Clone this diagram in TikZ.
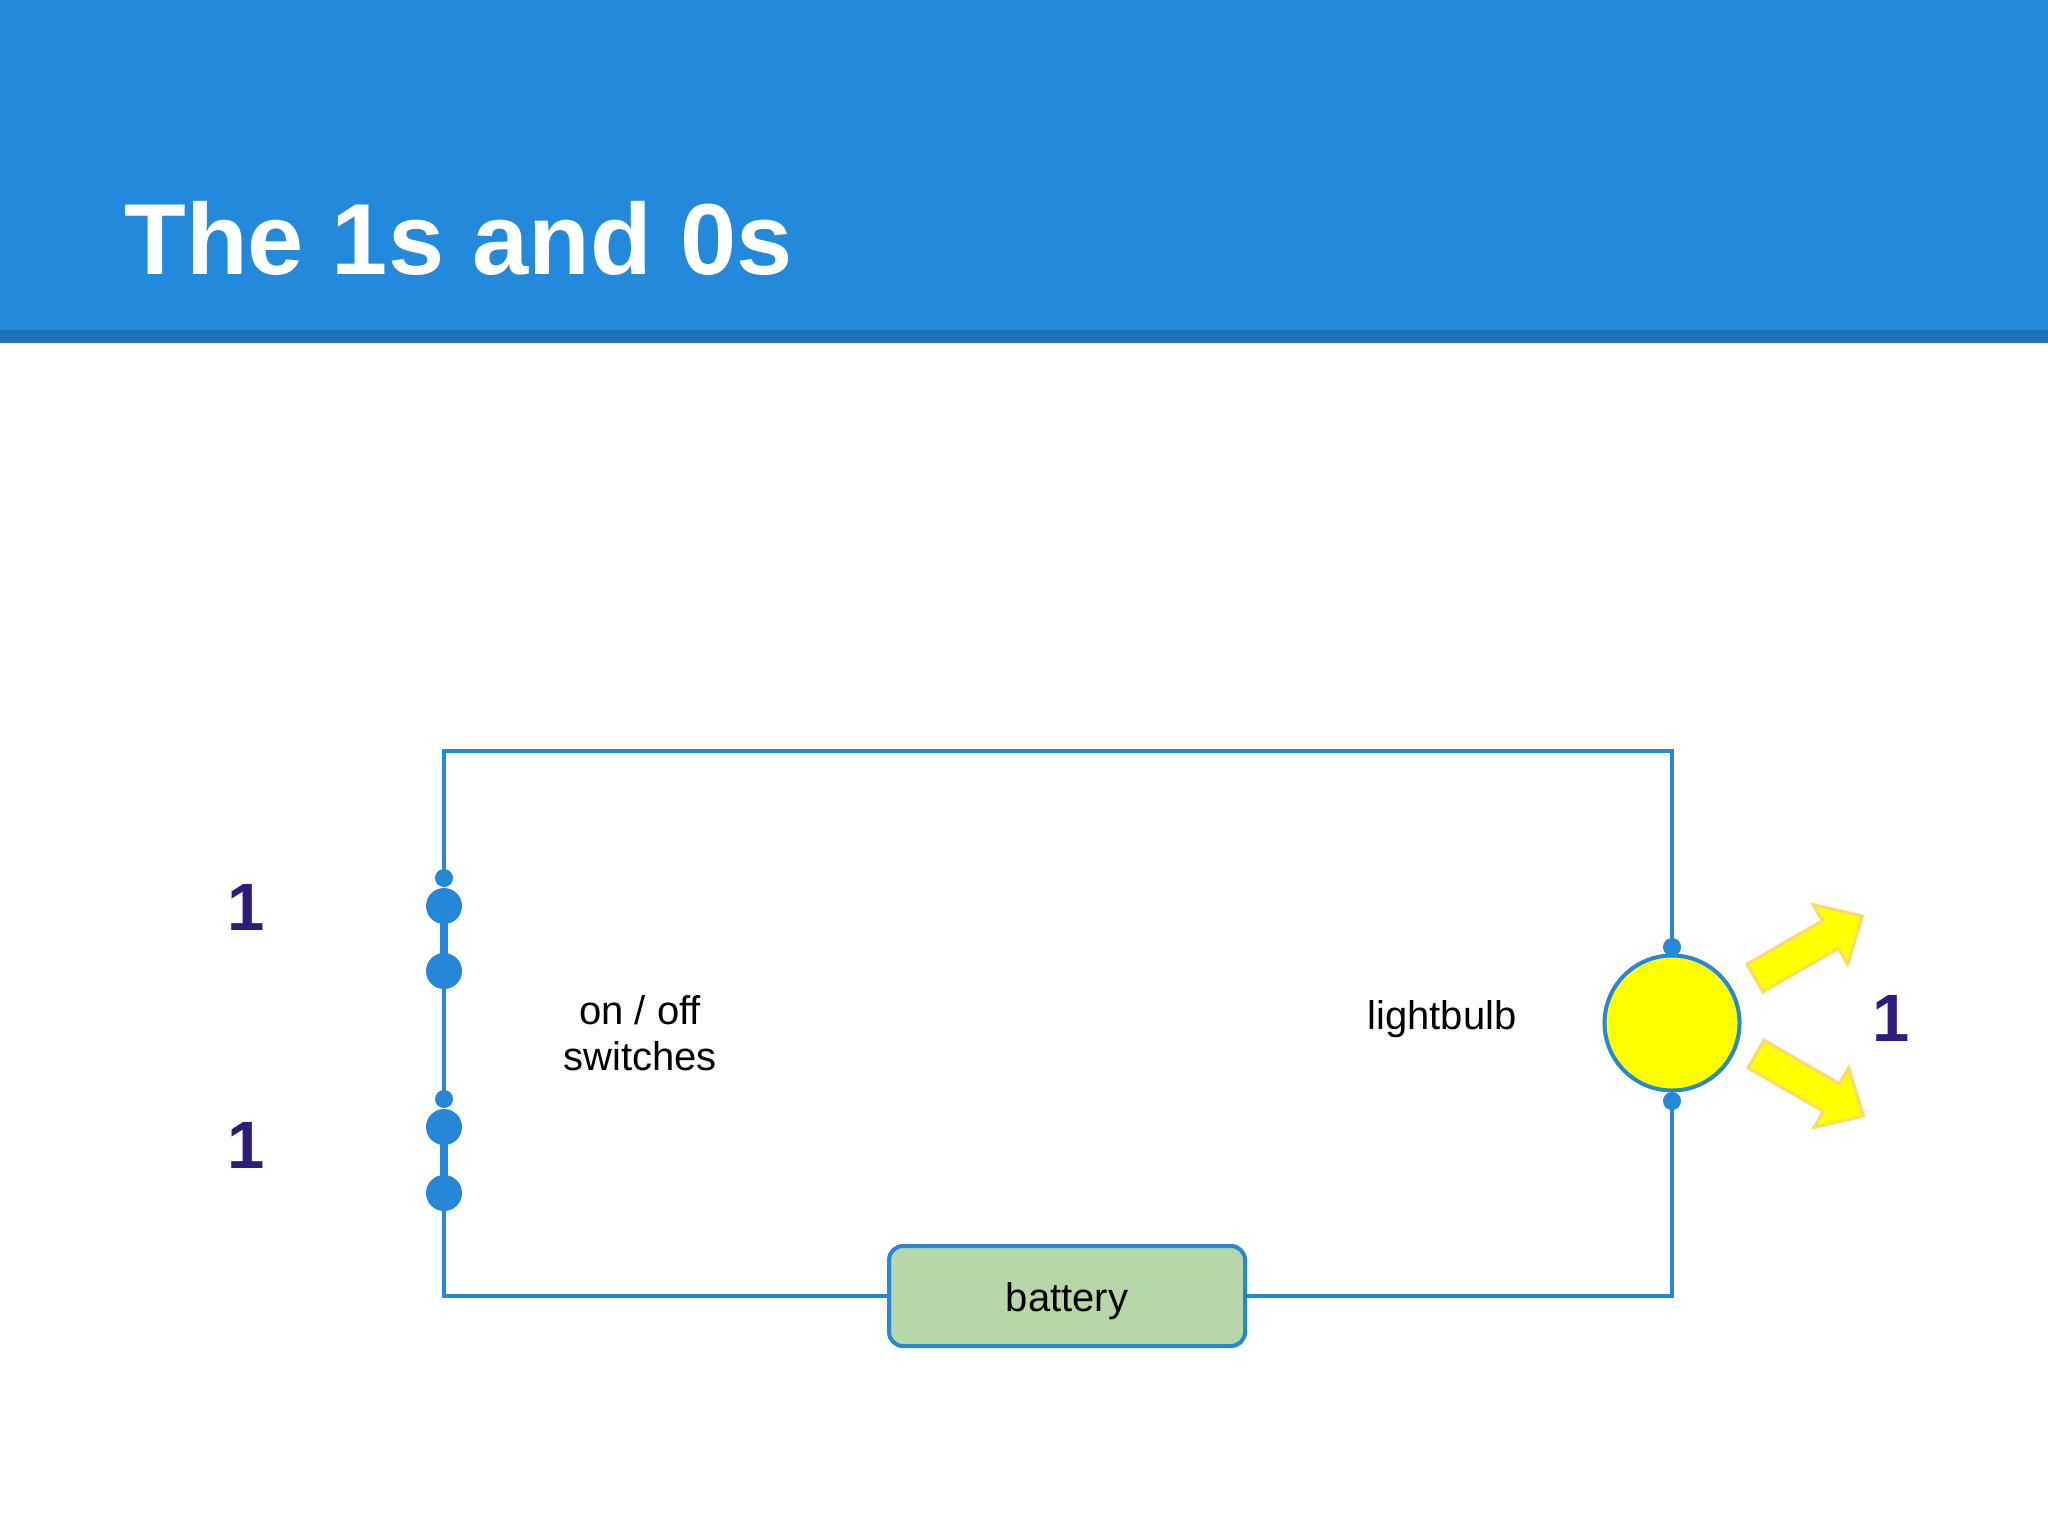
\documentclass[tikz,border=0pt]{standalone}
\usepackage{fontspec}
\setmainfont{Liberation Sans}
\usetikzlibrary{backgrounds}
\definecolor{barblue}{HTML}{2389DB}
\definecolor{stripblue}{HTML}{2272B6}
\definecolor{wireblue}{HTML}{2687D9}
\definecolor{digitpurple}{HTML}{2E1B7B}
\definecolor{cellgreen}{HTML}{B7D7A8}
\definecolor{rayedge}{HTML}{FFD966}
\definecolor{bulbyellow}{HTML}{FFFF00}
\tikzset{
	wire/.style={line width=2pt, color=wireblue},
	contact/.style={circle, fill=wireblue, inner sep=0pt, minimum size=9pt},
	knob/.style={circle, fill=wireblue, inner sep=0pt, minimum size=18pt},
	bit/.style={anchor=base, text=digitpurple, inner sep=0pt, font=\fontsize{33.5}{40}\selectfont\bfseries},
	caption/.style={align=center, inner sep=0pt, font=\fontsize{20}{23}\selectfont},
	bulb/.style={circle, draw=wireblue, line width=2pt, fill=bulbyellow, inner sep=0pt, minimum size=67.5pt},
	cell/.style={rectangle, rounded corners=7pt, draw=wireblue, line width=2pt, fill=cellgreen, minimum width=178pt, minimum height=50pt, text height=15.5pt, text depth=0pt, font=\fontsize{20}{23}\selectfont},
	ray/.style={fill=bulbyellow, draw=rayedge, line width=1.5pt},
}
\def\ray(#1)(#2){\begin{scope}[shift={(#1)}, rotate=#2]\draw[ray] (0,-16) -- (87,-16) -- (87,-34.5) -- (124,0) -- (87,34.5) -- (87,16) -- (0,16) -- cycle;\end{scope}}

\begin{document}
\begin{tikzpicture}[x=0.5pt, y=-0.5pt]
			%%%%% START %%%%%
			
			\useasboundingbox (0, 0) rectangle (2048, 1536);
			
			\fill[barblue] (0, 0) rectangle (2048, 330);
			\fill[stripblue] (0, 330) rectangle (2048, 343);
			\node[anchor=base west, text=white, inner sep=0pt, font=\fontsize{50.5}{60}\selectfont\bfseries] (title) at (124, 274) {The 1s and 0s};
			
			\coordinate (tl) at (444, 751);
			\coordinate (tr) at (1672, 751);
			\coordinate (bl) at (444, 1296);
			\coordinate (br) at (1672, 1296);
			
			\node[contact] (s1a) at (444, 878) {};
			\node[knob] (s1b) at (444, 906) {};
			\node[knob] (s1c) at (444, 971) {};
			
			\node[contact] (s2a) at (444, 1099) {};
			\node[knob] (s2b) at (444, 1127) {};
			\node[knob] (s2c) at (444, 1193) {};
			
			\node[bulb] (bulb) at (1672, 1023) {};
			\node[contact] (b1) at (1672, 947) {};
			\node[contact] (b2) at (1672, 1101) {};
			
			\node[cell] (batt) at (1067, 1296) {battery};
			
			\begin{scope}[on background layer]
			\fill[white] (0, 343) rectangle (2048, 1536);
			\draw[wire] (s1a.center) -- (tl) -- (tr) -- (b1.center);
			\draw[wire] (s1c.center) -- (s2a.center);
			\draw[wire] (s2c.center) -- (bl) -- (batt.west);
			\draw[wire] (batt.east) -- (br) -- (b2.center);
			\draw[wire, line width=4pt] (s1b.center) -- (s1c.center);
			\draw[wire, line width=4pt] (s2b.center) -- (s2c.center);
			\end{scope}
			
			\node[bit] (bit1) at (246, 930) {1};
			\node[bit] (bit2) at (246, 1168) {1};
			\node[bit] (bit3) at (1891, 1041) {1};
			
			\node[caption] (switches) at (640, 1033) {on / off\\switches};
			\node[caption, anchor=base] (bulbtext) at (1442, 1029) {lightbulb};
			
			\ray(1755, 978)(30)
			\ray(1756, 1054)(-30)
			
			%%%%% END %%%%%
\end{tikzpicture}
\end{document}
